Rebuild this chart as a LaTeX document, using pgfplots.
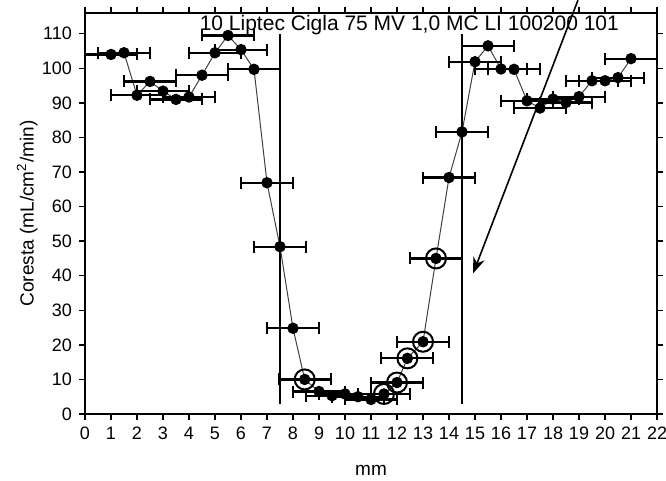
\documentclass[border=0pt]{standalone}
\usepackage{fontspec}
\setmainfont{Liberation Sans}
\usepackage{pgfplots}
\pgfplotsset{compat=1.18}
\usetikzlibrary{arrows.meta}

\begin{document}
\begin{tikzpicture}
\begin{axis}[
    scale only axis,
    width=286pt, height=200.5pt,
    xmin=0, xmax=22, ymin=0, ymax=116,
    xtick={0,1,...,22}, ytick={0,10,...,110},
    tick align=outside, major tick length=3pt,
    axis line style={line width=0.8pt},
    tick style={line width=0.7pt, black},
    tick label style={font=\fontsize{9}{10}\selectfont},
    /pgf/number format/assume math mode=true,
    xlabel={mm}, ylabel={Coresta (mL/cm\textsuperscript{2}/min)},
    label style={font=\fontsize{9.5}{11}\selectfont},
    xlabel style={at={(axis description cs:0.5,-0.14)}, anchor=center},
    ylabel style={at={(axis description cs:-0.101,0.5)}, anchor=center},
    clip=false,
]
% boundary lines
\addplot[black, line width=1pt] coordinates {(7.5,3) (7.5,110)};
\addplot[black, line width=1pt] coordinates {(14.5,3) (14.5,110)};

% measured profile: x, y, x error
\addplot[black!75, line width=0.5pt,
    mark=*, mark size=2.6pt, mark options={fill=black, draw=black, solid},
    error bars/.cd, x dir=both, x explicit,
    error bar style={black, line width=1.1pt},
    error mark options={rotate=90, mark size=3pt, black, line width=1pt}]
    table[x index=0, y index=1, x error index=2] {
1.0  104.0 1
1.5  104.5 1
2.0  92.2  1
2.5  96.2  1
3.0  93.4  1
3.5  91.0  1
4.0  91.7  1
4.5  98.0  1
5.0  104.5 1
5.5  109.5 1
6.0  105.4 1
6.5  99.7  1
7.0  66.9  1
7.5  48.4  1
8.0  24.8  1
8.45 10.0  1
9.0  6.5   1
9.5  5.3   1
10.0 5.8   1
10.5 5.0   1
11.0 4.2   1
11.5 5.8   1
12.0 9.1   1
12.4 16.1  1
13.0 20.9  1
13.5 45.0  1
14.0 68.4  1
14.5 81.6  1
15.0 101.9 1
15.5 106.5 1
16.0 99.8  1
16.5 99.7  1
17.0 90.6  1
17.5 88.5  1
18.0 91.1  1
18.5 90.1  1
19.0 91.8  1
19.5 96.4  1
20.0 96.4  1
20.5 97.3  1
21.0 102.8 1
};

% highlighted points
\addplot[only marks, mark=o, mark size=5pt, mark options={black, line width=1pt}]
    coordinates {(8.45,10.0) (11.5,5.8) (12.0,9.1) (12.4,16.1) (13.0,20.9) (13.5,45.0)};

\node[anchor=west, font=\fontsize{10.5}{12}\selectfont, inner sep=0pt]
    at (axis cs:4.4,112.4) {10 Liptec Cigla 75 MV 1,0 MC LI 100200 101};

\draw[-{Stealth[length=8pt,width=6pt]}, black, line width=0.8pt]
    (axis cs:18.96,119.7) -- (axis cs:14.93,40.7);
\end{axis}
\pgfresetboundingbox
\path[use as bounding box]
    ([xshift=-42.5pt,yshift=-33pt]current axis.south west)
    rectangle ([xshift=4.5pt,yshift=6.5pt]current axis.north east);
\end{tikzpicture}
\end{document}
